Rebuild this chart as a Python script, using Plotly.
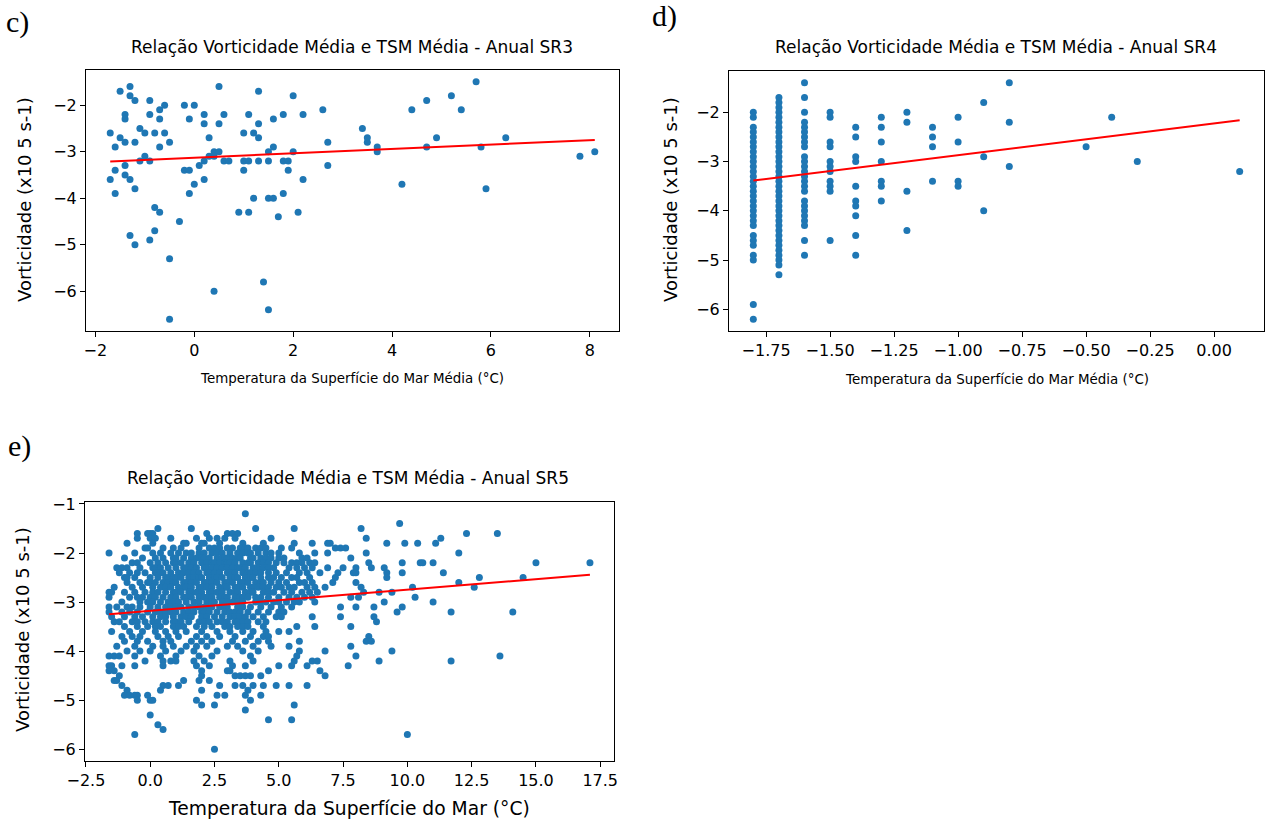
import numpy as np
import plotly.graph_objects as go

# ---------------- Data: SR3 (panel c) ----------------
sr3_tsm = [-1.7, -1.5, -1.3, -1.3, -1.2, -1.4, -1.4, -1.5, -1.6, -1.4, -1.2, -1.1, -1.0, -0.9, -0.9,
           -0.8, -0.7, -0.6, -0.7, -0.6, -0.7, -0.5, -0.2, 0.0, -0.1, 0.2, 0.2, 0.5, 0.6, 0.5, 0.3,
           1.3, 1.1, 1.0, 1.2, 1.3, 1.3, 1.6, 1.8, 2.0, 2.2, 2.6, 2.7, 2.0, 1.5, 1.6,
           -1.0, -1.1, -0.9, -1.4, -1.6, -1.7, -1.4, -1.3, -1.2, -1.6,
           0.4, 0.5, 0.3, 0.4, 0.2, 0.1, -0.2, -0.1, 0.0, -0.1, 0.2, 0.6, 0.7, 1.0, 1.1, 1.3, 1.5,
           1.8, 1.9, 1.0, 1.9, 2.2, 2.7, 1.2, 1.5, 1.6, 1.8, 0.9, 1.1, 1.7, 2.1,
           -0.8, -0.7, -0.3, -1.3, -1.2, -0.8, -0.9, -0.5, 0.4, 1.4, 1.5, -0.5,
           3.4, 3.5, 3.5, 3.7, 3.7, 4.2, 4.4, 4.7, 4.7, 4.9, 5.2, 5.4, 5.7, 5.8, 5.9, 6.3, 7.8, 8.1]
sr3_vort = [-2.6, -1.7, -1.6, -1.8, -1.9, -2.2, -2.3, -2.7, -2.9, -2.8, -2.8, -2.5, -2.6, -1.9, -2.2,
            -2.6, -2.1, -2.0, -2.3, -2.6, -2.9, -2.8, -2.0, -2.0, -2.3, -2.2, -2.4, -1.6, -2.2, -2.4, -2.7,
            -1.7, -2.2, -2.6, -2.6, -2.4, -2.7, -2.3, -2.2, -1.8, -2.2, -2.1, -2.8, -3.0, -3.0, -2.9,
            -3.1, -3.2, -3.2, -3.3, -3.4, -3.6, -3.5, -3.6, -3.8, -3.9,
            -3.0, -3.0, -3.1, -3.1, -3.2, -3.3, -3.4, -3.4, -3.7, -3.9, -3.6, -3.2, -3.2, -3.2, -3.2, -3.2, -3.2,
            -3.2, -3.2, -3.4, -3.4, -3.6, -3.3, -4.0, -4.0, -4.0, -3.9, -4.3, -4.3, -4.4, -4.3,
            -4.2, -4.3, -4.5, -4.8, -5.0, -4.7, -4.9, -5.3, -6.0, -5.8, -6.4, -6.6,
            -2.5, -2.7, -2.8, -2.9, -3.0, -3.7, -2.1, -1.9, -2.9, -2.7, -1.8, -2.1, -1.5, -2.9, -3.8, -2.7, -3.1, -3.0]

# ---------------- Data: SR4 (panel d) ----------------
sr4_columns = [-1.8, -1.7, -1.6, -1.5, -1.4, -1.3, -1.2, -1.1, -1.0, -0.9, -0.8, -0.5, -0.4, -0.3, 0.1]
sr4_column_vort = [
    [-2.0, -2.1, -2.3, -2.4, -2.5, -2.6, -2.7, -2.8, -2.9, -3.0, -3.1, -3.2, -3.3, -3.4, -3.5, -3.6,
     -3.7, -3.8, -3.9, -4.0, -4.1, -4.2, -4.3, -4.5, -4.6, -4.7, -4.9, -5.0, -5.9, -6.2],
    [-1.7, -1.8, -1.9, -2.0, -2.1, -2.2, -2.3, -2.4, -2.5, -2.6, -2.7, -2.8, -2.9, -3.0, -3.1, -3.2,
     -3.3, -3.4, -3.5, -3.6, -3.7, -3.8, -3.9, -4.0, -4.1, -4.2, -4.3, -4.4, -4.5, -4.6, -4.7, -4.8,
     -4.9, -5.0, -5.1, -5.3],
    [-1.4, -1.7, -2.0, -2.2, -2.3, -2.4, -2.5, -2.6, -2.7, -2.9, -3.0, -3.1, -3.2, -3.3, -3.4, -3.5,
     -3.6, -3.8, -3.9, -4.0, -4.1, -4.2, -4.3, -4.6, -4.9],
    [-2.0, -2.1, -2.6, -2.7, -3.0, -3.1, -3.2, -3.4, -3.5, -3.6, -4.6],
    [-2.3, -2.5, -2.9, -3.0, -3.5, -3.8, -3.9, -4.1, -4.5, -4.9],
    [-2.1, -2.3, -2.6, -3.0, -3.4, -3.5, -3.8],
    [-2.0, -2.2, -3.6, -4.4],
    [-2.3, -2.5, -2.7, -3.4],
    [-2.1, -2.6, -3.4, -3.5],
    [-1.8, -2.9, -4.0],
    [-1.4, -2.2, -3.1],
    [-2.7],
    [-2.1],
    [-3.0],
    [-3.2],
]
sr4_tsm = [c for c, vs in zip(sr4_columns, sr4_column_vort) for _ in vs]
sr4_vort = [v for vs in sr4_column_vort for v in vs]

# ---------------- Data: SR5 (panel e), rows of equal vorticity ----------------
sr5_rows = {
    -1.2: [3.7],
    -1.4: [9.7],
    -1.5: [0.3, 1.6, 4.1, 5.6, 8.2],
    -1.6: [-0.5, -0.1, 0.0, 0.1, 2.2, 3.0, 3.2, 3.4, 12.3, 13.5],
    -1.7: [-0.5, 0.0, 0.2, 0.8, 1.8, 2.3, 2.6, 2.9, 3.3, 4.7, 8.4, 11.3],
    -1.8: [-0.9, 0.1, 1.3, 1.4, 2.0, 2.1, 2.7, 3.6, 4.4, 5.6, 6.3, 6.9, 7.0, 9.2, 9.9, 10.4, 11.1],
    -1.9: [-0.2, -0.1, 0.5, 0.9, 1.2, 1.9, 2.3, 2.5, 2.7, 3.0, 3.2, 3.5, 3.7, 3.8, 4.1, 4.3, 4.5,
           5.1, 5.5, 7.2, 7.4, 7.6],
    -2.0: [-1.6, -0.6, 0.1, 0.4, 0.8, 1.1, 1.4, 1.6, 1.9, 2.1, 2.4, 2.6, 2.8, 3.1, 3.4, 3.6, 3.8, 3.9,
           4.2, 4.5, 4.7, 5.0, 5.8, 6.4, 6.9, 8.4, 12.0],
    -2.1: [-1.0, -0.3, 0.2, 0.5, 0.9, 1.0, 1.3, 1.6, 1.8, 2.0, 2.1, 2.3, 2.6, 2.8, 2.9, 3.0, 3.2, 3.4,
           3.5, 3.9, 4.0, 4.3, 4.5, 4.7, 5.0, 5.2, 5.9, 6.1, 7.8],
    -2.2: [-0.7, -0.5, 0.0, 0.3, 0.6, 0.9, 1.0, 1.2, 1.5, 1.7, 2.0, 2.2, 2.4, 2.5, 2.7, 2.9, 3.0, 3.1,
           3.3, 3.6, 3.8, 3.9, 4.2, 4.4, 4.6, 4.9, 5.2, 5.5, 5.7, 5.9, 6.2, 6.4, 8.5, 9.8, 10.5, 10.6,
           11.0, 15.0, 17.1],
    -2.3: [-1.3, -1.1, -0.9, -0.4, 0.1, 0.2, 0.4, 0.7, 1.0, 1.3, 1.4, 1.6, 1.8, 2.1, 2.2, 2.4, 2.6, 2.8,
           3.0, 3.2, 3.4, 3.5, 3.7, 4.0, 4.2, 4.4, 4.6, 4.8, 5.4, 5.7, 6.0, 6.3, 6.9, 7.5, 8.0, 8.6, 9.1],
    -2.4: [-1.2, -0.8, -0.5, -0.2, 0.2, 0.4, 0.5, 0.8, 1.1, 1.3, 1.5, 1.7, 1.9, 2.2, 2.3, 2.5, 2.7, 3.0,
           3.2, 3.3, 3.6, 3.8, 3.9, 4.1, 4.3, 4.6, 4.9, 5.3, 5.8, 6.1, 6.6, 7.3, 7.9, 8.0, 9.2, 9.8, 11.4],
    -2.5: [-1.0, -0.9, -0.6, 0.0, 0.3, 0.6, 0.7, 0.9, 1.0, 1.2, 1.5, 1.7, 1.9, 2.0, 2.3, 2.5, 2.6, 2.8,
           3.1, 3.3, 3.4, 3.7, 3.9, 4.0, 4.3, 4.6, 4.8, 5.1, 5.5, 5.7, 6.2, 7.2, 9.2, 12.8, 14.5],
    -2.6: [-0.9, -0.4, -0.1, 0.0, 0.2, 0.5, 0.7, 0.9, 1.0, 1.3, 1.4, 1.6, 1.8, 2.1, 2.2, 2.4, 2.6, 2.9,
           3.0, 3.2, 3.5, 3.6, 3.8, 4.1, 4.3, 4.4, 4.7, 5.0, 5.3, 5.8, 6.0, 6.3, 7.1, 8.0, 12.0],
    -2.7: [-1.4, -0.7, -0.3, 0.1, 0.4, 0.6, 0.8, 1.1, 1.3, 1.4, 1.6, 1.9, 2.0, 2.2, 2.4, 2.7, 2.9, 3.0,
           3.3, 3.4, 3.6, 3.9, 4.0, 4.2, 4.4, 4.6, 4.9, 5.1, 5.4, 5.6, 6.1, 6.4, 6.8, 8.2, 10.2, 12.6],
    -2.8: [-1.6, -1.5, -1.0, -0.6, -0.2, 0.1, 0.3, 0.6, 0.9, 1.0, 1.2, 1.5, 1.6, 1.8, 2.0, 2.3, 2.4, 2.6,
           2.8, 3.1, 3.3, 3.4, 3.7, 3.9, 4.0, 4.4, 4.6, 4.8, 5.2, 5.5, 5.9, 6.2, 6.5, 8.3, 8.9, 9.4],
    -2.9: [-1.6, -0.8, -0.5, -0.3, 0.0, 0.2, 0.5, 0.8, 1.0, 1.3, 1.4, 1.6, 1.9, 2.1, 2.2, 2.4, 2.7, 2.9,
           3.0, 3.3, 3.5, 3.6, 3.8, 4.1, 4.3, 4.6, 5.0, 5.4, 5.7, 6.0, 6.3, 7.8, 8.1, 10.3],
    -3.0: [-1.1, -0.4, -0.1, 0.1, 0.4, 0.7, 0.9, 1.1, 1.4, 1.7, 1.9, 2.2, 2.4, 2.5, 2.8, 3.0, 3.2, 3.4,
           3.6, 4.1, 4.3, 4.5, 4.8, 5.0, 5.3, 5.6, 5.8, 6.4, 9.1, 11.0],
    -3.1: [-1.6, -1.3, -0.9, -0.7, -0.4, 0.0, 0.3, 0.6, 0.8, 1.0, 1.2, 1.5, 1.7, 1.9, 2.1, 2.2, 2.4, 2.7,
           2.9, 3.0, 3.4, 3.6, 3.9, 4.3, 4.7, 5.1, 5.5, 7.4, 8.0, 8.7, 9.8],
    -3.2: [-1.6, -1.1, -0.8, -0.5, -0.1, 0.2, 0.4, 0.6, 0.8, 1.0, 1.3, 1.5, 1.7, 2.0, 2.1, 2.3, 2.6, 2.9,
           3.1, 3.3, 3.5, 3.8, 4.2, 4.6, 5.0, 5.2, 9.6, 11.7, 14.1],
    -3.3: [-1.5, -1.0, -0.6, -0.3, 0.1, 0.4, 0.6, 0.9, 1.2, 1.4, 1.6, 2.0, 2.2, 2.5, 2.8, 3.1, 3.3, 3.5,
           3.7, 4.0, 4.4, 4.9, 5.1, 6.3, 7.4, 8.7],
    -3.4: [-1.4, -1.2, -0.7, -0.5, -0.2, 0.1, 0.3, 0.6, 0.9, 1.0, 1.2, 1.5, 1.9, 2.1, 2.3, 2.6, 2.8, 3.0,
           3.3, 3.4, 3.6, 3.8, 4.2, 4.5, 8.8],
    -3.5: [-1.0, -0.5, -0.1, 0.2, 0.4, 0.9, 1.1, 1.3, 1.8, 2.1, 2.4, 2.9, 3.1, 3.4, 3.6, 3.8, 4.4, 5.7,
           6.4, 7.8],
    -3.6: [-1.5, -0.8, -0.3, 0.2, 0.6, 1.0, 1.4, 2.0, 2.6, 3.1, 3.6, 4.0, 4.5, 5.0, 5.4],
    -3.7: [-1.1, -0.7, -0.4, 0.3, 0.7, 1.1, 1.8, 2.2, 2.7, 3.3, 3.9, 4.4, 4.6, 8.5],
    -3.8: [-1.0, -0.5, -0.1, 0.5, 0.8, 1.6, 2.0, 2.4, 3.2, 3.7, 4.2, 4.6, 5.8, 8.4, 8.6],
    -3.9: [-1.3, -0.6, 0.1, 0.5, 0.9, 1.4, 1.8, 2.2, 3.0, 3.4, 4.0, 4.7, 5.4, 7.8],
    -4.0: [-0.9, -0.4, 0.0, 0.6, 1.2, 1.7, 2.6, 3.6, 4.2, 5.8, 6.8, 9.4],
    -4.1: [-1.6, -1.4, -1.2, -0.6, 0.4, 1.0, 1.9, 2.4, 3.9, 5.7, 8.0, 13.6],
    -4.2: [-0.2, 0.5, 0.8, 1.0, 1.7, 2.1, 3.1, 4.0, 5.6, 6.3, 6.5, 8.9, 11.7],
    -4.3: [-1.6, -1.5, -1.1, -0.6, 0.5, 1.8, 2.3, 3.2, 3.7, 5.0, 5.5, 6.1, 7.7],
    -4.4: [-1.6, -1.4, 2.0, 3.0, 3.1, 4.6, 6.6],
    -4.5: [-1.2, 2.0, 3.3, 3.5, 3.7, 3.9, 4.3, 6.8],
    -4.6: [-1.4, -1.3, 1.3, 1.9, 2.3],
    -4.7: [-1.1, 0.5, 0.7, 1.1, 2.7, 3.3, 3.6, 4.0, 4.4, 4.9, 5.4, 6.1],
    -4.8: [-0.9, 0.4, 2.0, 3.8],
    -4.9: [-1.0, -0.8, -0.6, -0.5, -0.1, 2.6, 2.9, 3.7, 4.3],
    -5.0: [-0.5, 0.0, 0.1, 1.8, 3.9],
    -5.1: [2.0, 2.5, 5.6],
    -5.2: [3.7],
    -5.3: [0.0],
    -5.4: [4.6, 5.5],
    -5.5: [0.3],
    -5.6: [0.5],
    -5.7: [-0.6, 10.0],
    -6.0: [2.5],
}
sr5_tsm = [x for v, xs in sr5_rows.items() for x in xs]
sr5_vort = [v for v, xs in sr5_rows.items() for _ in xs]

# Linear-fit coefficients (slope, intercept)
trend_slope = [0.047, 0.645, 0.043]
trend_intercept = [-3.13, -2.224, -3.177]

# ---------------- Text ----------------
titles = ["Relação Vorticidade Média e TSM Média - Anual SR3",
          "Relação Vorticidade Média e TSM Média - Anual SR4",
          "Relação Vorticidade Média e TSM Média - Anual SR5"]
panel_letters = ["c)", "d)", "e)"]
ylabel = "Vorticidade (x10 5 s-1)"
xlabel_media = "Temperatura da Superfície do Mar Média (°C)"
xlabel_e = "Temperatura da Superfície do Mar (°C)"

W, H = 1273, 825
def px(x):
    return x / W
def py(y):
    return 1 - y / H

BLUE = "#1f77b4"
fig = go.Figure()

panels = [
    (sr3_tsm, sr3_vort, "x", "y"),
    (sr4_tsm, sr4_vort, "x2", "y2"),
    (sr5_tsm, sr5_vort, "x3", "y3"),
]
for i, (xs, ys, xa, ya) in enumerate(panels):
    xs = np.array(xs, dtype=float)
    ys = np.array(ys, dtype=float)
    fig.add_trace(go.Scatter(x=xs, y=ys, mode="markers", xaxis=xa, yaxis=ya,
                             marker=dict(color=BLUE, size=7, line=dict(width=0)),
                             showlegend=False, hoverinfo="skip"))
    xl = np.array([xs.min(), xs.max()])
    fig.add_trace(go.Scatter(x=xl, y=trend_intercept[i] + trend_slope[i] * xl, mode="lines",
                             xaxis=xa, yaxis=ya, line=dict(color="red", width=2),
                             showlegend=False, hoverinfo="skip"))

def mpl_range(vals):
    lo, hi = min(vals), max(vals)
    m = 0.05 * (hi - lo)
    return [lo - m, hi + m]

axis_common = dict(showgrid=False, zeroline=False, showline=True, linecolor="black", linewidth=1,
                   mirror=True, ticks="outside", ticklen=5, tickwidth=1, tickcolor="black",
                   automargin=False,
                   tickfont=dict(family="DejaVu Sans", size=16, color="black"))

fig.update_layout(
    width=W, height=H, margin=dict(l=0, r=0, t=0, b=0, autoexpand=False),
    paper_bgcolor="white", plot_bgcolor="white",
    xaxis=dict(domain=[px(86), px(619)], range=mpl_range(sr3_tsm), anchor="y",
               tickvals=[-2, 0, 2, 4, 6, 8], **axis_common),
    yaxis=dict(domain=[py(331), py(70)], range=mpl_range(sr3_vort), anchor="x",
               tickvals=[-2, -3, -4, -5, -6], **axis_common),
    xaxis2=dict(domain=[px(729), px(1264)], range=mpl_range(sr4_tsm), anchor="y2",
                tickvals=[-1.75, -1.5, -1.25, -1.0, -0.75, -0.5, -0.25, 0.0], tickformat=".2f",
                **axis_common),
    yaxis2=dict(domain=[py(331), py(71)], range=mpl_range(sr4_vort), anchor="x2",
                tickvals=[-2, -3, -4, -5, -6], **axis_common),
    xaxis3=dict(domain=[px(85), px(614)], range=mpl_range(sr5_tsm), anchor="y3",
                tickvals=[-2.5, 0, 2.5, 5, 7.5, 10, 12.5, 15, 17.5], tickformat=".1f",
                **axis_common),
    yaxis3=dict(domain=[py(761), py(502)], range=mpl_range(sr5_vort), anchor="x3",
                tickvals=[-1, -2, -3, -4, -5, -6], **axis_common),
)

ann = []
def text(x, y, s, size, family="DejaVu Sans", angle=0, xanchor="center"):
    ann.append(dict(x=px(x), y=py(y), xref="paper", yref="paper", text=s, showarrow=False,
                    xanchor=xanchor, yanchor="middle", textangle=angle,
                    font=dict(family=family, size=size, color="black")))

# titles
text(352, 47, titles[0], 17)
text(996, 47, titles[1], 17)
text(348, 478, titles[2], 17)
# y labels
text(24, 200, ylabel, 18, angle=-90)
text(670, 200, ylabel, 18, angle=-90)
text(22, 630, ylabel, 18, angle=-90)
# x labels
text(352, 378, xlabel_media, 13.4)
text(997, 379, xlabel_media, 13.4)
text(349, 808, xlabel_e, 18.7)
# panel letters
text(4, 22, panel_letters[0], 30, family="Liberation Serif", xanchor="left")
text(650, 16, panel_letters[1], 30, family="Liberation Serif", xanchor="left")
text(6, 446, panel_letters[2], 30, family="Liberation Serif", xanchor="left")

fig.update_layout(annotations=ann)
fig.write_html("out.html")
